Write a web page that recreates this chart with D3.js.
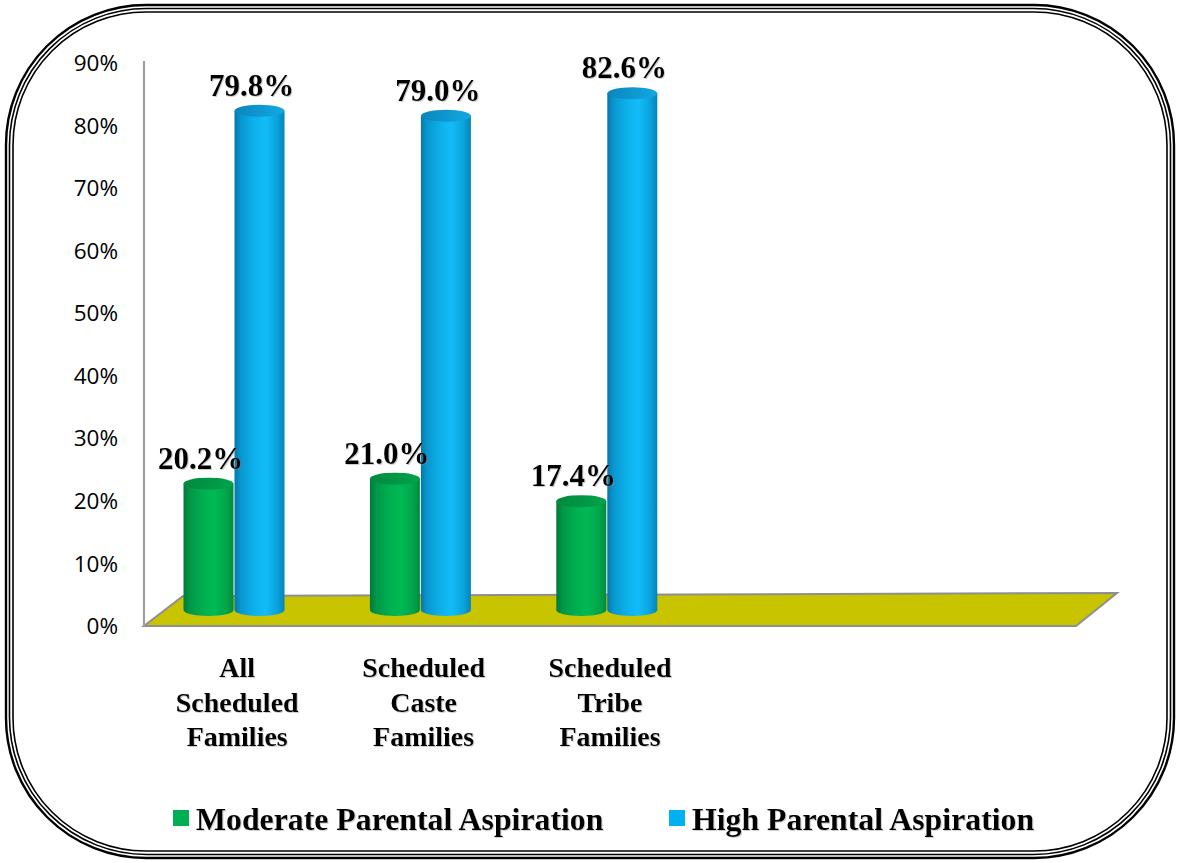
<!DOCTYPE html>
<html>
<head>
<meta charset="utf-8">
<script src="https://cdn.jsdelivr.net/npm/d3@7"></script>
<style>
  html, body { margin: 0; padding: 0; background: #fff; }
  svg { display: block; }
</style>
</head>
<body>
<svg id="chart" width="1178" height="863"></svg>
<script>
// Parental aspiration by family group
const categories = ["All Scheduled Families", "Scheduled Caste Families", "Scheduled Tribe Families"];
const seriesNames = ["Moderate Parental Aspiration", "High Parental Aspiration"];
const moderateValues = [20.2, 21.0, 17.4];
const highValues = [79.8, 79.0, 82.6];
const tickValues = [0, 10, 20, 30, 40, 50, 60, 70, 80, 90];
const tickLabels = ["0%", "10%", "20%", "30%", "40%", "50%", "60%", "70%", "80%", "90%"];

const seriesValues = [moderateValues, highValues];
const seriesColors = ["#00b050", "#00b0f0"];

const W = 1178, H = 863;
const svg = d3.select("#chart");
const defs = svg.append("defs");

// soft shadow used behind bold text
const sh = defs.append("filter").attr("id", "txtShadow")
  .attr("x", "-5%").attr("y", "-5%").attr("width", "115%").attr("height", "130%");
sh.append("feDropShadow").attr("dx", 1).attr("dy", 1).attr("stdDeviation", 0.6)
  .attr("flood-color", "#888").attr("flood-opacity", 0.4);

// cylinder shading
function bodyGradient(id, stops) {
  const g = defs.append("linearGradient").attr("id", id)
    .attr("x1", 0).attr("x2", 1).attr("y1", 0).attr("y2", 0);
  stops.forEach(s => g.append("stop").attr("offset", s[0]).attr("stop-color", s[1]));
}
bodyGradient("body0", [[0, "#00793a"], [0.12, "#009646"], [0.4, "#00b050"], [0.62, "#00b955"], [0.85, "#00a64b"], [1, "#008a3e"]]);
bodyGradient("body1", [[0, "#0577aa"], [0.12, "#0996cf"], [0.4, "#0db1ec"], [0.62, "#12bcf8"], [0.85, "#0aa4de"], [1, "#0783b6"]]);
bodyGradient("top0", [[0, "#008a3f"], [0.6, "#009846"], [1, "#00a54c"]]);
bodyGradient("top1", [[0, "#0a86bb"], [0.6, "#0f9ad3"], [1, "#13a9e3"]]);

// rounded triple-line frame
[[6, 5, 1168, 853, 140], [9.5, 8.5, 1161, 846, 137], [13, 12, 1154, 839, 133]].forEach((r, i) => {
  svg.append("rect").attr("x", r[0]).attr("y", r[1]).attr("width", r[2]).attr("height", r[3])
    .attr("rx", r[4]).attr("ry", r[4]).attr("fill", "none").attr("stroke", "#000")
    .attr("stroke-width", i === 0 ? 2.4 : 1.6);
});

// layout
const plotLeft = 144, plotRight = 1076;
const slotCount = 5;             // the category axis reserves five slots
const depthX = 41, depthY = 30;  // floor depth
const baseY = 626;

const x = d3.scaleBand().domain(d3.range(slotCount)).range([plotLeft, plotRight]).padding(0);
const xs = d3.scaleBand().domain(d3.range(seriesNames.length)).range([39, 141]).padding(0);
const y = d3.scaleLinear().domain([0, 90]).range([baseY, 63]);
const midShift = 16; // cylinders stand at mid depth

// floor
const floorPts = [
  [plotLeft, baseY], [plotRight, baseY],
  [plotRight + depthX, baseY - depthY - 3], [plotLeft + depthX - 2, baseY - depthY]
];
svg.append("path").attr("d", d3.line()(floorPts) + "Z")
  .attr("fill", "#c8c400").attr("stroke", "#8f8f8f").attr("stroke-width", 2);

// value axis
svg.append("line").attr("x1", plotLeft).attr("x2", plotLeft)
  .attr("y1", y(90) - 2).attr("y2", baseY)
  .attr("stroke", "#a0a0a0").attr("stroke-width", 2.2);

svg.append("g").selectAll("text").data(tickValues).join("text")
  .attr("x", 118).attr("y", d => y(d)).attr("dy", "0.36em")
  .attr("text-anchor", "end")
  .attr("font-family", "'Open Sans', 'Liberation Sans', sans-serif")
  .attr("font-size", 22.5).attr("fill", "#000")
  .text((d, i) => tickLabels[i]);

// cylinders
const rx = xs.bandwidth() / 2 - 0.5, ry = 6;
seriesValues.forEach((vals, s) => {
  const g = svg.append("g");
  vals.forEach((v, c) => {
    const cx = x(c) + xs(s) + xs.bandwidth() / 2;
    const yb = y(0) - midShift, yt = y(v) - midShift;
    g.append("path")
      .attr("d", `M${cx - rx},${yt} L${cx - rx},${yb} A${rx},${ry} 0 0 0 ${cx + rx},${yb} L${cx + rx},${yt} Z`)
      .attr("fill", `url(#body${s})`);
    g.append("ellipse").attr("cx", cx).attr("cy", yt).attr("rx", rx).attr("ry", ry)
      .attr("fill", `url(#top${s})`);
  });
});

// value labels
seriesValues.forEach((vals, s) => {
  svg.append("g").selectAll("text").data(vals).join("text")
    .attr("x", (d, c) => x(c) + xs(s) + xs.bandwidth() / 2 - 8)
    .attr("y", d => y(d) - midShift - 15)
    .attr("text-anchor", "middle")
    .attr("font-family", "'Liberation Serif', 'Times New Roman', serif")
    .attr("font-weight", "bold").attr("font-size", 31).attr("fill", "#000")
    .attr("filter", "url(#txtShadow)")
    .text(d => d.toFixed(1) + "%");
});

// category labels
const catG = svg.append("g");
categories.forEach((name, c) => {
  const t = catG.append("text")
    .attr("x", x(c) + x.bandwidth() / 2).attr("y", 677)
    .attr("text-anchor", "middle")
    .attr("font-family", "'Liberation Serif', 'Times New Roman', serif")
    .attr("font-weight", "bold").attr("font-size", 28).attr("fill", "#000")
    .attr("filter", "url(#txtShadow)");
  name.split(" ").forEach((w, i) => {
    t.append("tspan").attr("x", x(c) + x.bandwidth() / 2).attr("dy", i === 0 ? 0 : 34.5).text(w);
  });
});

// legend
const legendX = [173, 669];
seriesNames.forEach((name, s) => {
  svg.append("rect").attr("x", legendX[s]).attr("y", 810).attr("width", 16).attr("height", 16)
    .attr("fill", seriesColors[s]);
  svg.append("text").attr("x", legendX[s] + 23).attr("y", 830)
    .attr("font-family", "'Liberation Serif', 'Times New Roman', serif")
    .attr("font-weight", "bold").attr("font-size", 31.8).attr("fill", "#000")
    .attr("filter", "url(#txtShadow)")
    .text(name);
});
</script>
</body>
</html>
